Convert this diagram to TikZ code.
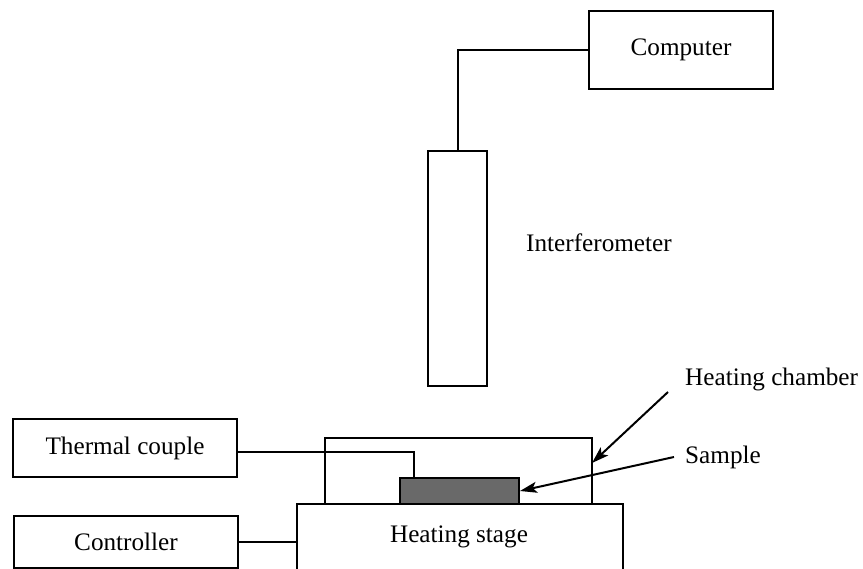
\documentclass[tikz,border=0pt]{standalone}
\usepackage{fontspec}
\setmainfont{Liberation Serif}
\usetikzlibrary{arrows.meta}
\definecolor{samplegray}{RGB}{105,105,105}
\begin{document}
\begin{tikzpicture}[x=1pt,y=-1pt,
  box/.style={draw,line width=2pt},
  wire/.style={draw,line width=2pt},
  lbl/.style={font=\fontsize{25.2}{30}\selectfont,inner sep=0pt},
  pointer/.style={draw,line width=2pt,-{Stealth[length=17pt,width=11pt,inset=4pt]}}]
\useasboundingbox (0,0) rectangle (863,569);
% boxes
\node[box,minimum width=184pt,minimum height=78pt,anchor=north west] (comp) at (588,10) {};
\node[lbl] at (comp.center) {Computer};
\node[box,minimum width=59pt,minimum height=235pt,anchor=north west] (interf) at (427,150) {};
\node[lbl,anchor=west] (interflbl) at (526,243) {Interferometer};
\node[box,minimum width=224pt,minimum height=58pt,anchor=north west] (tc) at (12,418) {};
\node[lbl] at (tc.center) {Thermal couple};
\node[box,minimum width=224pt,minimum height=52pt,anchor=north west] (ctrl) at (13,515) {};
\node[lbl] at (ctrl.center) {Controller};
% heating chamber and stage
\draw[wire] (325,503) |- (592,438) -- (592,503);
\coordinate (chR) at (592,463);
\node[box,minimum width=326pt,minimum height=80pt,anchor=north west] (stage) at (296,503) {};
\node[lbl] (stagelbl) at (459,537) {Heating stage};
\node[box,fill=samplegray,minimum width=119pt,minimum height=26pt,anchor=north west] (sample) at (399,477) {};
% wires
\draw[wire] (interf.north) |- (comp.west);
\draw[wire] (tc.east) ++(0,4) -| (414,477);
\draw[wire] (ctrl.east) -- (ctrl.east -| stage.west);
% labels with pointers
\node[lbl,anchor=west] (chlbl) at (685,379) {Heating chamber};
\node[lbl,anchor=west] (samplbl) at (685,457) {Sample};
\coordinate (chstart) at (668,392);
\coordinate (sastart) at (674,457);
\draw[pointer] (chstart) -- (chR);
\draw[pointer] (sastart) -- (sample.east);
\end{tikzpicture}
\end{document}
